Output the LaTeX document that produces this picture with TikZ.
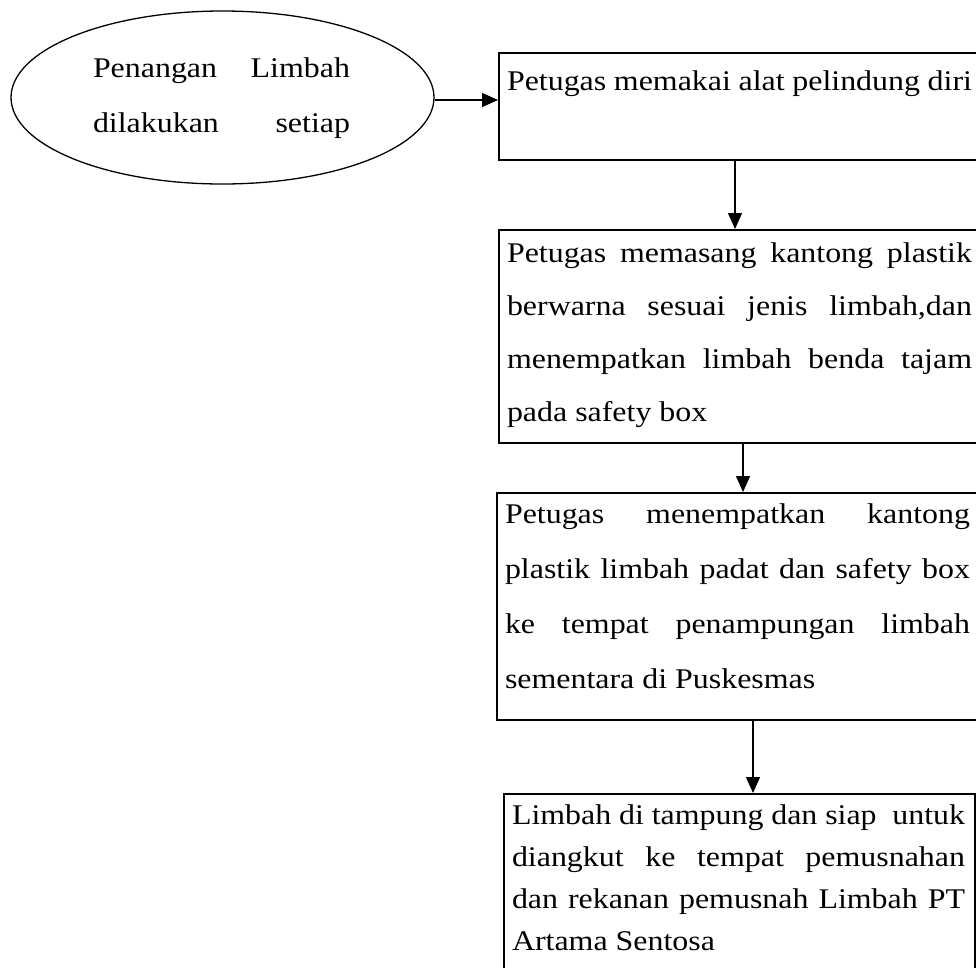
\documentclass[tikz,border=0pt]{standalone}
\usepackage{fontspec}
\setmainfont{Liberation Serif}[FakeStretch=1.12]
\usetikzlibrary{shapes.geometric,arrows.meta}
\tikzset{
  boxnode/.style={draw=black, line width=2pt, rectangle, inner sep=0pt, anchor=north west},
  ovalnode/.style={draw=black, line width=1.3pt, ellipse, inner sep=0pt},
  txtnode/.style={inner sep=0pt, outer sep=0pt, anchor=base west},
  arr/.style={line width=1.3pt, -{Triangle[length=16pt,width=14pt]}}
}
\newcommand{\jline}[1]{\makebox[\linewidth][s]{#1}}
\newcommand{\txtblock}[3]{\parbox[t]{#1}{\fontsize{28.5}{#2}\selectfont #3}}
\begin{document}
\begin{tikzpicture}[x=1pt,y=-1pt]
\path[fill=white, use as bounding box] (0,0) rectangle (976,967);
\clip (0,0) rectangle (976,967);

% shapes
\node[ovalnode, minimum width=423pt, minimum height=173pt] (e) at (222.5,97.5) {};
\node[boxnode, minimum width=502pt, minimum height=107pt] (b1) at (498,52) {};
\node[boxnode, minimum width=502pt, minimum height=213pt] (b2) at (498,229) {};
\node[boxnode, minimum width=504pt, minimum height=227pt] (b3) at (496,492) {};
\node[boxnode, line width=1.6pt, minimum width=471pt, minimum height=220pt] (b4) at (503,793) {};

% texts
\node[txtnode] (et) at (93,77.7) {\txtblock{257pt}{55pt}{%
\jline{Penangan Limbah}\\
\jline{dilakukan setiap}}};
\node[txtnode] (t1) at (507,90.7) {\txtblock{465pt}{53pt}{Petugas memakai alat pelindung diri}};
\node[txtnode] (t2) at (507,262) {\txtblock{465pt}{53pt}{%
\jline{Petugas memasang kantong plastik}\\
\jline{berwarna sesuai jenis limbah,dan}\\
\jline{menempatkan limbah benda tajam}\\
pada safety box}};
\node[txtnode] (t3) at (505,523) {\txtblock{465pt}{55pt}{%
\jline{Petugas menempatkan kantong}\\
\jline{plastik limbah padat dan safety box}\\
\jline{ke tempat penampungan limbah}\\
sementara di Puskesmas}};
\node[txtnode] (t4) at (512,824.7) {\txtblock{453pt}{42pt}{%
\jline{Limbah di tampung dan siap\ \ untuk}\\
\jline{diangkut ke tempat pemusnahan}\\
\jline{dan rekanan pemusnah Limbah PT}\\
Artama Sentosa}};

% connector guides
\coordinate (ya) at (0,100);
\coordinate (xa) at (735,0);
\coordinate (xb) at (743,0);
\coordinate (xc) at (753,0);

% connectors
\draw[arr] (e.east |- ya) -- (b1.west |- ya);
\draw[arr] (b1.south -| xa) -- (b2.north -| xa);
\draw[arr] (b2.south -| xb) -- (b3.north -| xb);
\draw[arr] (b3.south -| xc) -- (b4.north -| xc);
\end{tikzpicture}
\end{document}
